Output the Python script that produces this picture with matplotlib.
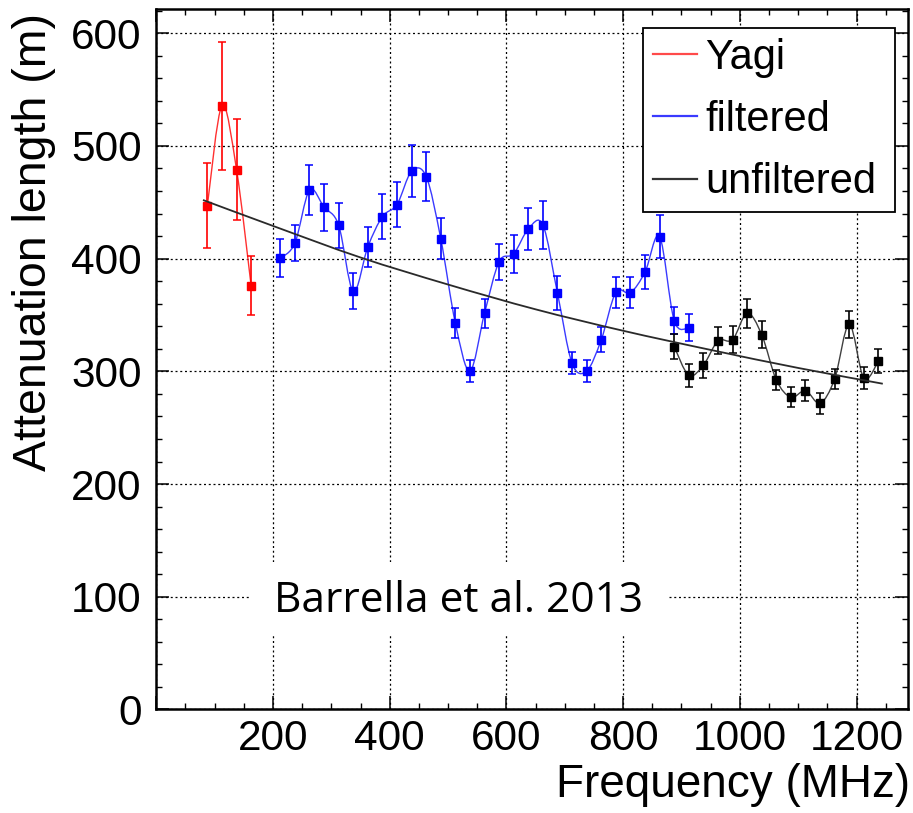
import numpy as np
import matplotlib
matplotlib.use("Agg")
import matplotlib.pyplot as plt
from matplotlib.path import Path
from matplotlib.patches import PathPatch, Rectangle
from matplotlib.lines import Line2D
from matplotlib.ticker import MultipleLocator

# ---------------- data ----------------
yagi_freq = [87.5, 112.5, 137.5, 162.5]
yagi_len = [447, 535.5, 479, 376]
yagi_err = [38, 57, 45, 26]

filt_freq = [212.5, 237.5, 262.5, 287.5, 312.5, 337.5, 362.5, 387.5, 412.5, 437.5,
             462.5, 487.5, 512.5, 537.5, 562.5, 587.5, 612.5, 637.5, 662.5, 687.5,
             712.5, 737.5, 762.5, 787.5, 812.5, 837.5, 862.5, 887.5, 912.5]
filt_len = [400.4, 413.7, 460.7, 445.6, 429.6, 371, 410.4, 437.3, 448, 477.5,
            472.8, 417.7, 342.8, 300.3, 351.5, 397.3, 404.2, 426.3, 429.9, 369.3,
            307.2, 300.3, 328, 370, 369.8, 388, 419.5, 345, 338.5]
filt_err = [17, 16, 22, 21, 20, 16, 18, 20, 20, 23,
            22, 18, 13, 10, 13, 16, 17, 19, 21, 15,
            10, 10, 11, 14, 14, 15, 19, 12, 12]

unf_freq = [887.5, 912.5, 937.5, 962.5, 987.5, 1012.5, 1037.5, 1062.5, 1087.5,
            1112.5, 1137.5, 1162.5, 1187.5, 1212.5, 1237.5]
unf_len = [322, 296.5, 305.4, 327, 328, 351.5, 332.5, 292.4, 277,
           282.9, 271.7, 293.3, 341.8, 293.9, 309.2]
unf_err = [11, 10, 11, 12, 12, 13, 12, 9, 9, 9, 9.5, 9, 12, 10, 11]

fit_freq = [80, 200, 350, 500, 650, 800, 950, 1100, 1245]
fit_len = [452, 429, 401, 377, 355, 336, 319, 303, 289]

legend_labels = ["Yagi", "filtered", "unfiltered"]
x_ticks = [0, 200, 400, 600, 800, 1000, 1200]
y_ticks = [0, 100, 200, 300, 400, 500, 600]


def smooth_path(x, y):
    """Catmull-Rom curve through the points, as cubic Bezier path."""
    pts = np.column_stack([x, y]).astype(float)
    ext = np.vstack([pts[0], pts, pts[-1]])
    verts = [pts[0]]
    codes = [Path.MOVETO]
    for i in range(len(pts) - 1):
        p0, p1, p2, p3 = ext[i], ext[i + 1], ext[i + 2], ext[i + 3]
        verts += [p1 + (p2 - p0) / 6.0, p2 - (p3 - p1) / 6.0, p2]
        codes += [Path.CURVE4] * 3
    return Path(verts, codes)


SANS = ["Liberation Sans", "DejaVu Sans"]
plt.rcParams["font.family"] = SANS

fig = plt.figure(figsize=(9.13, 8.13), dpi=100)
ax = fig.add_axes([0.17119, 0.12731, 0.82322, 0.86101])
ax.set_xlim(0, 1288)
ax.set_ylim(0, 621)

# grid
ax.set_axisbelow(True)
ax.grid(True, which="major", color="black", linestyle=(0, (1.6, 2.2)), linewidth=0.9)

# white label box (hides grid)
ax.add_patch(Rectangle((0.1247, 0.1064), 0.5561, 0.1043, transform=ax.transAxes,
                       facecolor="white", edgecolor="none", zorder=1))
ax.text(0.157, 0.1397, "Barrella et al. 2013", transform=ax.transAxes,
        fontsize=30.5, family=["Open Sans", "DejaVu Sans"], ha="left", va="baseline",
        color="black", zorder=2)

# curves
series = [
    (yagi_freq, yagi_len, yagi_err, "#ff0000", "#ff3030"),
    (filt_freq, filt_len, filt_err, "#0000ff", "#3a3aff"),
    (unf_freq, unf_len, unf_err, "#000000", "#404040"),
]
for f, L, e, mc, lc in series:
    ax.add_patch(PathPatch(smooth_path(f, L), facecolor="none", edgecolor=lc,
                           linewidth=1.0, zorder=3))
    ax.errorbar(f, L, yerr=e, fmt="s", ms=5.3, color=mc, ecolor=mc,
                elinewidth=1.2, capsize=2.6, capthick=1.1, zorder=4)

ax.add_patch(PathPatch(smooth_path(fit_freq, fit_len), facecolor="none",
                       edgecolor="#2a2a2a", linewidth=1.3, zorder=5))

# axes styling
ax.set_xticks(x_ticks)
ax.set_yticks(y_ticks)
ax.set_xticklabels(["" if v == 0 else str(v) for v in x_ticks])
ax.xaxis.set_minor_locator(MultipleLocator(50))
ax.yaxis.set_minor_locator(MultipleLocator(20))
ax.tick_params(which="both", direction="in", top=True, right=True,
               labeltop=False, labelright=False, colors="black")
ax.tick_params(which="major", length=9.5, width=1.1, labelsize=30.5)
ax.tick_params(which="minor", length=4.5, width=1.0)
ax.tick_params(axis="x", which="major", pad=7)
ax.tick_params(axis="y", which="major", pad=10.5)
for s in ax.spines.values():
    s.set_linewidth(1.8)
    s.set_color("black")

fig.text(910 / 913, (813 - 796.7) / 813, "Frequency (MHz)", fontsize=33,
         ha="right", va="baseline")
fig.text(34 / 913, (813 - 13) / 813, "Attenuation length (m)", fontsize=33.5,
         rotation=90, ha="center", va="top")

# legend (box fixed to the reference frame: x 643-895 px, y 28-211 px)
handles = [Line2D([0], [0], color="#ff4a4a", lw=1.6),
           Line2D([0], [0], color="#3a3aff", lw=1.6),
           Line2D([0], [0], color="#333333", lw=1.6)]
leg = ax.legend(handles, legend_labels, loc="upper right",
                bbox_to_anchor=(0.6475, 0.7121, 0.3353, 0.2615), mode="expand",
                borderaxespad=0, fontsize=30, handlelength=1.05, handletextpad=0.2,
                labelspacing=0.53, borderpad=0.24, fancybox=False, framealpha=1,
                edgecolor="black")
leg.get_frame().set_linewidth(1.3)
leg.set_zorder(10)

fig.savefig("out.png", dpi=100)
